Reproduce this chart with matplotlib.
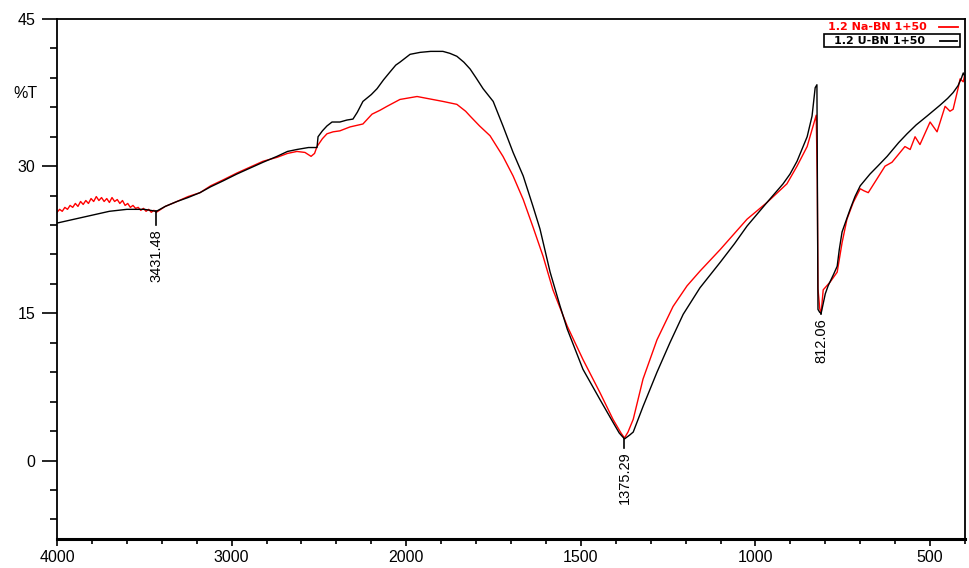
import matplotlib
matplotlib.use("Agg")
import matplotlib.pyplot as plt
import numpy as np
from matplotlib.lines import Line2D
from matplotlib.patches import Rectangle
from matplotlib.ticker import FixedLocator, MultipleLocator

plt.rcParams["font.family"] = ["Liberation Sans", "DejaVu Sans"]

# black trace: 1.2 U-BN 1+50
wn_black = [4000, 3900, 3850, 3750, 3700, 3600, 3500, 3431, 3380, 3313, 3250, 3181,
            3120, 3049, 2970, 2895, 2820, 2740, 2680, 2626, 2560, 2511, 2505, 2480,
            2454, 2425, 2380, 2340, 2305, 2280, 2248, 2200, 2167, 2130, 2093, 2060,
            2036, 1989, 1960, 1930, 1895, 1875, 1855, 1835, 1817, 1800, 1780, 1751,
            1723, 1694, 1665, 1637, 1617, 1588, 1560, 1539, 1494, 1445, 1408, 1390,
            1375, 1360, 1350, 1322, 1282, 1245, 1207, 1159, 1101, 1060, 1024, 967,
            921, 901, 881, 852, 838, 829, 824, 821, 816, 812, 800, 792, 776, 766,
            760, 752, 740, 729, 715, 700, 672, 650, 623, 590, 566, 540, 509, 472,
            450, 434, 420, 410, 405, 401]
t_black = [24.2, 24.6, 24.8, 25.2, 25.4, 25.6, 25.6, 25.4, 25.9, 26.4, 26.8, 27.3,
           27.9, 28.5, 29.2, 29.8, 30.4, 31.0, 31.5, 31.7, 31.9, 31.9, 33.0, 33.6,
           34.1, 34.5, 34.5, 34.7, 34.8, 35.5, 36.6, 37.3, 37.9, 38.8, 39.6, 40.3,
           40.6, 41.4, 41.6, 41.7, 41.7, 41.5, 41.2, 40.6, 39.9, 39.0, 37.9, 36.6,
           34.1, 31.4, 29.0, 25.9, 23.6, 19.2, 15.8, 13.4, 9.3, 6.2, 3.9, 2.8,
           2.2, 2.6, 2.9, 5.5, 9.0, 12.0, 14.9, 17.6, 20.2, 22.1, 23.9, 26.3,
           28.2, 29.2, 30.5, 33.0, 35.1, 38.0, 38.3, 15.4, 15.1, 15.0, 17.0, 17.8,
           19.0, 19.8, 21.5, 23.3, 24.5, 25.6, 26.9, 28.0, 29.2, 30.0, 31.0, 32.4,
           33.3, 34.2, 35.1, 36.2, 36.9, 37.5, 38.2, 39.0, 39.5, 39.2]

# red trace: 1.2 Na-BN 1+50
wn_red = [4000, 3985, 3970, 3955, 3940, 3925, 3910, 3895, 3880, 3865, 3850, 3835,
          3820, 3805, 3790, 3775, 3760, 3745, 3730, 3715, 3700, 3685, 3670, 3655,
          3640, 3625, 3610, 3595, 3580, 3565, 3550, 3535, 3520, 3505, 3490, 3475,
          3460, 3445, 3431, 3380, 3313, 3250, 3181, 3120, 3049, 2970, 2895, 2820,
          2740, 2680, 2626, 2580, 2545, 2525, 2511, 2480, 2454, 2419, 2380, 2322,
          2248, 2196, 2150, 2110, 2036, 1969, 1940, 1895, 1855, 1830, 1817, 1790,
          1760, 1723, 1694, 1665, 1637, 1608, 1580, 1539, 1494, 1445, 1408, 1385,
          1375, 1365, 1350, 1322, 1282, 1236, 1196, 1159, 1101, 1024, 967, 910,
          881, 852, 829, 826, 823, 821, 816, 812, 806, 786, 766, 752, 738, 720,
          700, 690, 677, 652, 629, 609, 586, 572, 557, 543, 529, 500, 480, 457,
          443, 434, 420, 414, 405, 401]
t_red = [25.3, 25.6, 25.4, 25.8, 25.6, 26.0, 25.8, 26.2, 25.9, 26.4, 26.1, 26.5,
         26.2, 26.7, 26.4, 26.9, 26.5, 26.8, 26.4, 26.7, 26.3, 26.8, 26.4, 26.6,
         26.2, 26.5, 26.0, 26.2, 25.8, 26.0, 25.7, 25.8, 25.5, 25.7, 25.4, 25.6,
         25.3, 25.5, 25.3, 25.9, 26.4, 26.9, 27.3, 28.0, 28.6, 29.3, 29.9, 30.5,
         30.9, 31.3, 31.5, 31.4, 31.0, 31.3, 32.0, 32.8, 33.3, 33.5, 33.6, 34.0,
         34.3, 35.3, 35.7, 36.1, 36.8, 37.1, 36.9, 36.6, 36.3, 35.6, 35.1, 34.1,
         33.1, 31.0, 29.0, 26.6, 23.8, 20.8, 17.4, 13.7, 10.3, 6.9, 4.2, 2.8,
         2.3, 2.9, 4.2, 8.3, 12.3, 15.7, 17.8, 19.3, 21.5, 24.6, 26.3, 28.2,
         30.0, 32.0, 34.8, 35.2, 28.5, 17.5, 15.5, 15.0, 17.4, 18.2, 19.2, 22.2,
         24.6, 26.3, 27.7, 27.5, 27.3, 28.7, 30.0, 30.4, 31.4, 32.0, 31.7, 33.0,
         32.2, 34.5, 33.5, 36.1, 35.6, 35.8, 37.9, 38.9, 38.6, 39.3]

peak_wn = [3431.48, 1375.29, 812.06]
peak_labels = ["3431.48", "1375.29", "812.06"]
peak_t = [25.4, 2.2, 15.0]
label_top = [23.6, 0.9, 14.5]

legend_labels = ["1.2 Na-BN 1+50", "1.2 U-BN 1+50"]

W, H = 970, 568


def fwd(w):
    w = np.asarray(w, dtype=float)
    return np.where(w <= 2000, w, 2000 + (w - 2000) / 2)


def inv(v):
    v = np.asarray(v, dtype=float)
    return np.where(v <= 2000, v, 2000 + (v - 2000) * 2)


fig = plt.figure(figsize=(W / 100, H / 100), dpi=100)
ax = fig.add_axes([57 / W, 1 - 539 / H, (965 - 57) / W, (539 - 19) / H])
ax.set_xscale("function", functions=(fwd, inv))

ax.plot(wn_red, t_red, color="#ff0000", lw=1.0)
ax.plot(wn_black, t_black, color="black", lw=1.0)

for w, lab, t, top in zip(peak_wn, peak_labels, peak_t, label_top):
    ax.plot([w, w], [t, top + 0.4], color="black", lw=1.2)
    ax.text(w, top, lab, rotation=90, ha="center", va="top", fontsize=10.5)

ax.set_xlim(4000, 400)
ax.set_ylim(-8, 45)

ax.xaxis.set_major_locator(FixedLocator([4000, 3000, 2000, 1500, 1000, 500]))
minor_x = [w for w in list(range(3800, 2000, -200)) + list(range(1900, 399, -100))
           if w not in (3000, 1500, 1000, 500)]
ax.xaxis.set_minor_locator(FixedLocator(minor_x))
ax.xaxis.set_major_formatter(plt.FuncFormatter(lambda v, p: f"{v:.0f}"))
ax.yaxis.set_major_locator(FixedLocator([0, 15, 30, 45]))
ax.yaxis.set_minor_locator(MultipleLocator(3))

ax.tick_params(axis="x", which="major", direction="out", length=5, width=1.2,
               labelsize=11.5, pad=3)
ax.tick_params(axis="x", which="minor", direction="out", length=3.5, width=1.2)
ax.tick_params(axis="y", which="major", direction="out", length=10.5, width=1.2,
               labelsize=11.5, pad=5)
ax.tick_params(axis="y", which="minor", direction="out", length=5, width=1.2)

for side in ("left", "top", "right"):
    ax.spines[side].set_linewidth(1.3)
ax.spines["bottom"].set_linewidth(2.2)

fig.text(13 / W, 1 - 94 / H, "%T", fontsize=11.5, va="center", ha="left")

# legend drawn in figure pixels
fig.text(927 / W, 1 - 27.5 / H, legend_labels[0], color="#ff0000", fontsize=8,
         weight="bold", family="DejaVu Sans", ha="right", va="center")
fig.add_artist(Line2D([939 / W, 958 / W], [1 - 27 / H, 1 - 27 / H],
                      color="#ff0000", lw=1.3))
fig.add_artist(Rectangle((824 / W, 1 - 47 / H), 136 / W, 13 / H, fill=False,
                         edgecolor="black", lw=1.2))
fig.text(925 / W, 1 - 41 / H, legend_labels[1], color="black", fontsize=8,
         weight="bold", family="DejaVu Sans", ha="right", va="center")
fig.add_artist(Line2D([940 / W, 957 / W], [1 - 40.5 / H, 1 - 40.5 / H],
                      color="black", lw=1.3))

fig.savefig("out.png", dpi=100, facecolor="white")
